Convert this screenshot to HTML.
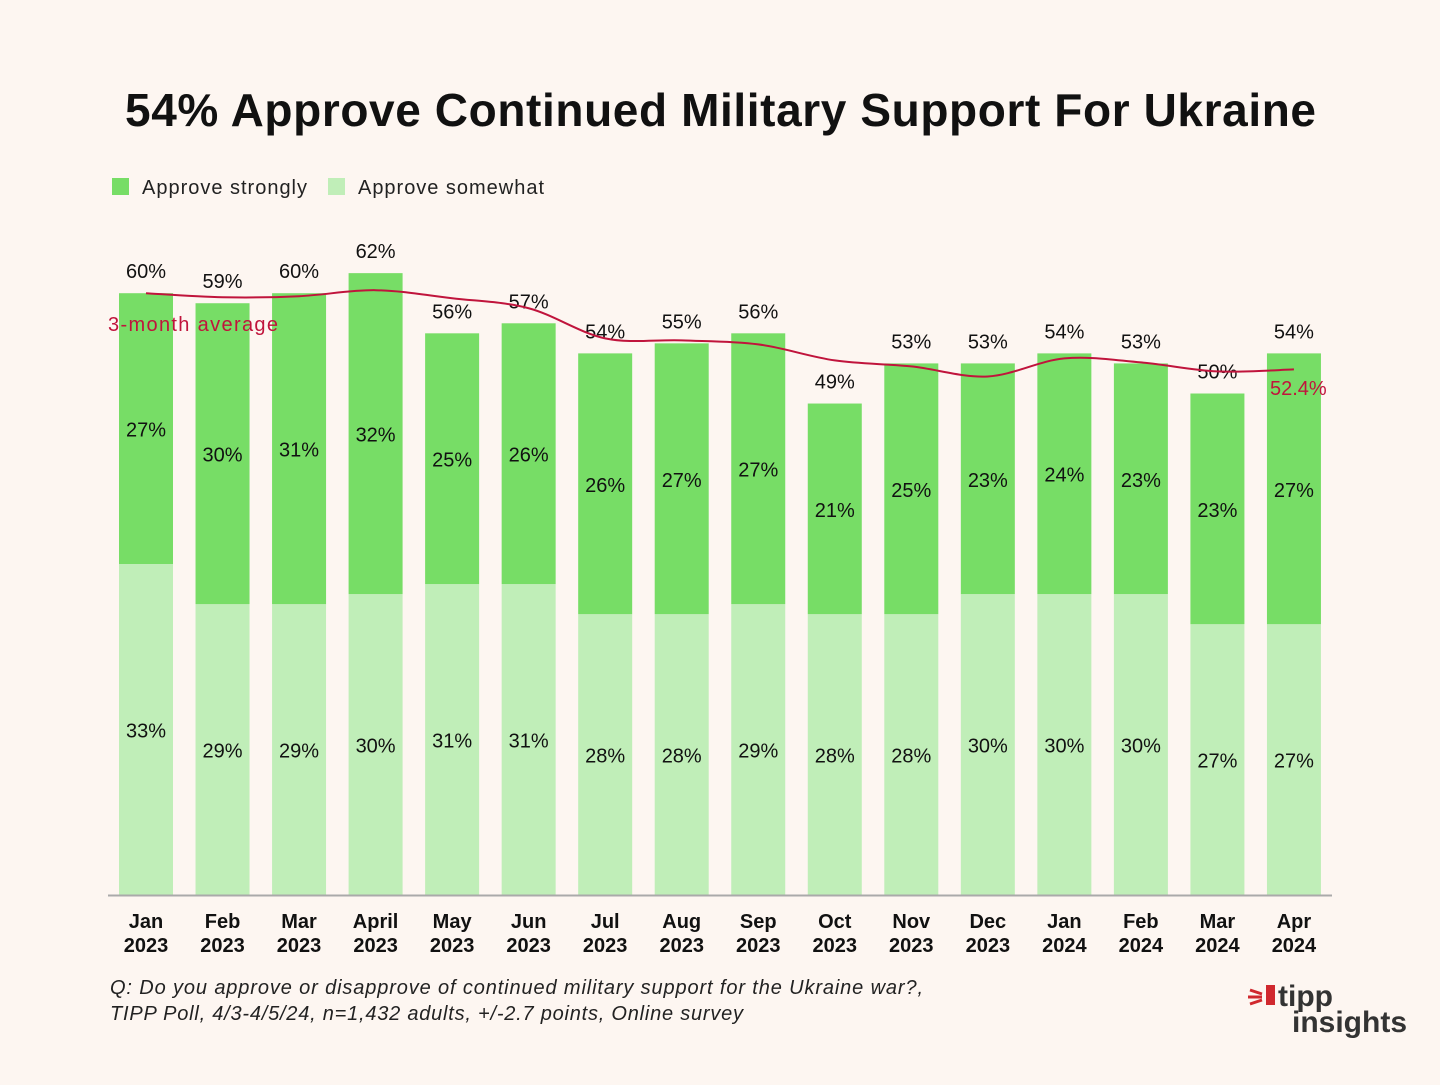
<!DOCTYPE html>
<html><head><meta charset="utf-8"><style>
body{margin:0;width:1440px;height:1080px;background:#fdf6f1;overflow:hidden;font-family:"Liberation Sans",sans-serif}
</style></head><body>
<svg width="1440" height="1080" id="chart">
<rect width="1440" height="1080" fill="#fdf6f1"/>
<text x="125" y="126" textLength="1191" lengthAdjust="spacing" font-size="46" font-weight="bold" fill="#111">54% Approve Continued Military Support For Ukraine</text>
<g>
<rect x="112" y="178" width="17" height="17" fill="#77dd66"/>
<text x="142" y="194" textLength="165" font-size="20" fill="#222">Approve strongly</text>
<rect x="328" y="178" width="17" height="17" fill="#c0eeb8"/>
<text x="358" y="194" textLength="186" font-size="20" fill="#222">Approve somewhat</text>
</g>
<g id="bars"></g>
<line x1="108" y1="895.5" x2="1332" y2="895.5" stroke="#aaa" stroke-width="2"/>
<g id="xlabels"></g>
<path id="avg" fill="none" stroke="#c0143c" stroke-width="2"/>
<text x="108" y="331" textLength="170" font-size="20" fill="#c0143c">3-month average</text>
<text x="1270" y="395" font-size="20" fill="#c0143c">52.4%</text>
<text x="110" y="994" textLength="813" lengthAdjust="spacing" font-size="20" font-style="italic" fill="#222">Q: Do you approve or disapprove of continued military support for the Ukraine war?,</text>
<text x="110" y="1020" textLength="633" lengthAdjust="spacing" font-size="20" font-style="italic" fill="#222">TIPP Poll, 4/3-4/5/24, n=1,432 adults, +/-2.7 points, Online survey</text>
<g>
<text x="1278" y="1006" font-size="30" font-weight="bold" fill="#333">tipp</text>
<text x="1292" y="1032" font-size="30" font-weight="bold" fill="#333">insights</text>
<path d="M1250 990 l12 4 M1248 997 l14 0 M1250 1004 l12 -4" stroke="#d0282e" stroke-width="3"/>
<rect x="1266" y="985" width="9" height="20" fill="#d0282e"/>
</g>
</svg>
<script>
const months=["Jan|2023","Feb|2023","Mar|2023","April|2023","May|2023","Jun|2023","Jul|2023","Aug|2023","Sep|2023","Oct|2023","Nov|2023","Dec|2023","Jan|2024","Feb|2024","Mar|2024","Apr|2024"];
const strongly=[27,30,31,32,25,26,26,27,27,21,25,23,24,23,23,27];
const somewhat=[33,29,29,30,31,31,28,28,29,28,28,30,30,30,27,27];
const totals=[60,59,60,62,56,57,54,55,56,49,53,53,54,53,50,54];
const average=[60,59.6,59.7,60.3,59.5,58.5,55.5,55.3,54.9,53.3,52.7,51.7,53.5,53.1,52.2,52.4];
const NS="http://www.w3.org/2000/svg";
const x=i=>146+i*76.53;
const y=v=>895-v*10.03;
const bw=54;
function mk(tag,attrs,parent,text){const e=document.createElementNS(NS,tag);for(const k in attrs)e.setAttribute(k,attrs[k]);if(text!==undefined)e.textContent=text;parent.appendChild(e);return e;}
const bars=document.getElementById('bars'),xl=document.getElementById('xlabels');
months.forEach((m,i)=>{
 const cx=x(i);
 const r1=mk('rect',{x:cx-bw/2,y:y(somewhat[i]),width:bw,height:y(0)-y(somewhat[i]),fill:'#c0eeb8'},bars);
 
 
 const top=y(somewhat[i]+strongly[i]);
 const r2=mk('rect',{x:cx-bw/2,y:top,width:bw,height:y(somewhat[i])-top,fill:'#77dd66'},bars);
 
 
 const t1=mk('text',{x:cx,y:(y(0)+y(somewhat[i]))/2+8,'text-anchor':'middle','font-size':20,fill:'#111'},bars,somewhat[i]+'%');
 
 
 const t2=mk('text',{x:cx,y:(top+y(somewhat[i]))/2+8,'text-anchor':'middle','font-size':20,fill:'#111'},bars,strongly[i]+'%');
 
 
 const t3=mk('text',{x:cx,y:y(totals[i])-15,'text-anchor':'middle','font-size':20,fill:'#111'},bars,totals[i]+'%');
 
 
 const [a,b]=m.split('|');
 const l1=mk('text',{x:cx,y:928,'text-anchor':'middle','font-size':20,'font-weight':'bold',fill:'#111'},xl,a);
 
 
 const l2=mk('text',{x:cx,y:952,'text-anchor':'middle','font-size':20,'font-weight':'bold',fill:'#111'},xl,b);
 
 
});
const pts=average.map((v,i)=>[x(i),y(v)]);
let d='M'+pts[0][0]+' '+pts[0][1];
for(let i=0;i<pts.length-1;i++){const p0=pts[Math.max(0,i-1)],p1=pts[i],p2=pts[i+1],p3=pts[Math.min(pts.length-1,i+2)];
 d+=` C${p1[0]+(p2[0]-p0[0])/6} ${p1[1]+(p2[1]-p0[1])/6} ${p2[0]-(p3[0]-p1[0])/6} ${p2[1]-(p3[1]-p1[1])/6} ${p2[0]} ${p2[1]}`;}
document.getElementById('avg').setAttribute('d',d);
</script>
</body></html>
